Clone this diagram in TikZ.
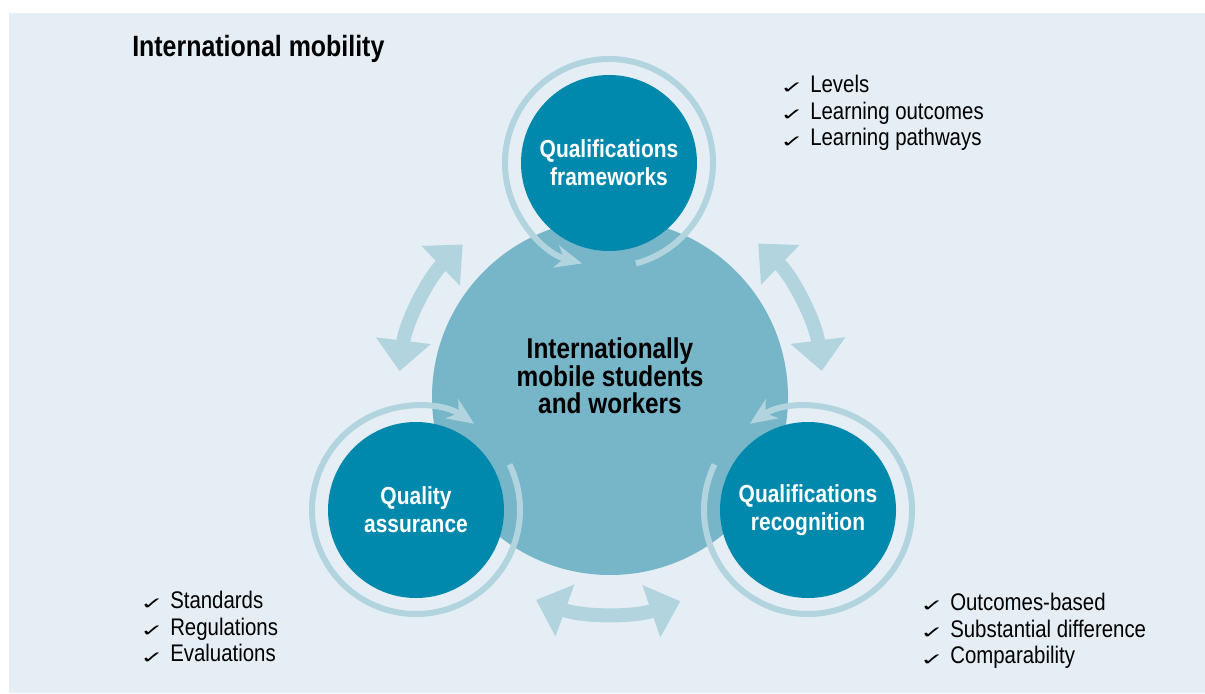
\documentclass[tikz,border=0pt]{standalone}
\usepackage{fontspec}
\usepackage{graphicx}
\setmainfont{Liberation Sans}[FakeStretch=0.85]
\newfontfamily\checkfont{DejaVu Sans}
\usetikzlibrary{arrows.meta,calc}

\definecolor{panelbg}{HTML}{E5EEF4}
\definecolor{midblue}{HTML}{77B6C8}
\definecolor{darkblue}{HTML}{0089AD}
\definecolor{paleblue}{HTML}{B1D4DF}

\newcommand\chk{\makebox[22.5pt][l]{\raisebox{-1pt}{\scalebox{1}[0.6]{\checkfont\fontsize{21}{21}\selectfont ✓}}}}

\begin{document}
\begin{tikzpicture}[x=0.75pt, y=0.75pt,
	bigcircle/.style={circle, fill=midblue, minimum size=267pt, inner sep=0pt},
	smallcircle/.style={circle, fill=darkblue, minimum size=132pt,
		inner sep=0pt, text=white, align=center,
		font=\fontsize{18.5}{21}\selectfont\bfseries},
	ringarrow/.style={draw=paleblue, line width=4.5pt,
		-{Stealth[length=20pt, width=17pt, inset=6pt]}},
	swaparrow/.style={draw=paleblue, line width=10.5pt,
		{Triangle[width=40pt, length=23pt]}-{Triangle[width=40pt, length=23pt]}},
	checklist/.style={anchor=north west, inner sep=0pt, align=left,
		font=\fontsize{18}{20}\selectfont}]
	\def \ringr {78pt}

	\useasboundingbox (0,0) rectangle (1205,693);
	\fill[panelbg] (9,0) rectangle (1205,680);

	\node (title) [anchor=base west, inner sep=0pt,
		font=\fontsize{22}{24}\selectfont\bfseries] at (132,636) {International mobility};

	\node (mob) [bigcircle] at (610,296) {};

	% double arrows between the three fields
	\foreach \b/\e/\r in {134/173/159pt, 46/7/160pt, -110/-71/162pt} {
		\draw[swaparrow] ($(mob)+(\b:\r)$) arc (\b:\e:\r);
	};

	\node (qf) [smallcircle] at (609,530) {Qualifications\\frameworks};
	\node (qa) [smallcircle] at (416,183) {Quality\\assurance};
	\node (qr) [smallcircle] at (808,183) {Qualifications\\recognition};

	\foreach \n/\b/\e in {qf/-75/255, qa/26/-304, qr/154/484} {
		\draw[ringarrow] ($(\n)+(\b:\ringr)$) arc (\b:\e:\ringr);
	};

	\node (mobtxt) [align=center, font=\fontsize{21.5}{20.5}\selectfont\bfseries]
		at ($(mob)+(0,21)$) {Internationally\\mobile students\\and workers};

	\node (qflist) [checklist] at (780,618) {\chk Levels\\\chk Learning outcomes\\\chk Learning pathways};
	\node (qalist) [checklist] at (140,102) {\chk Standards\\\chk Regulations\\\chk Evaluations};
	\node (qrlist) [checklist] at (920,100) {\chk Outcomes-based\\\chk Substantial difference\\\chk Comparability};
\end{tikzpicture}
\end{document}
